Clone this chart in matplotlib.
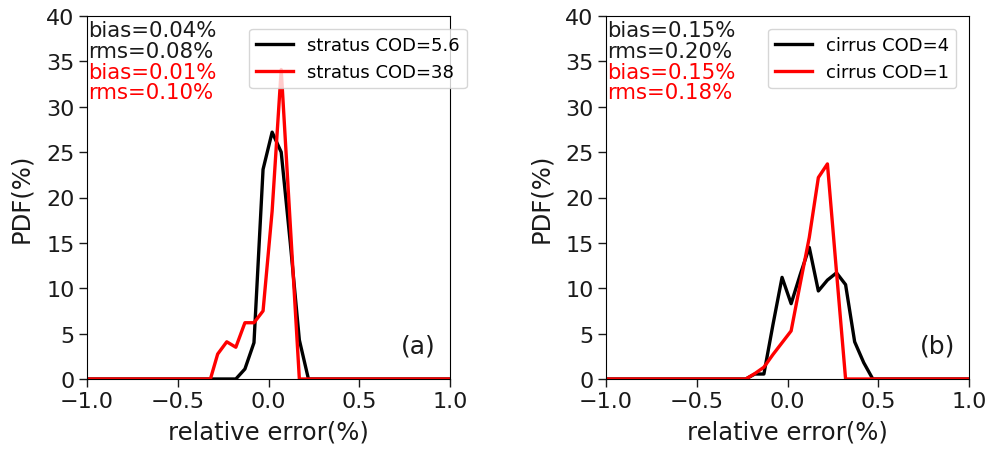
import matplotlib
matplotlib.use("Agg")
import matplotlib.pyplot as plt

# Panel (a) stratus
a_x_black = [-1.0, -0.18, -0.13, -0.08, -0.03, 0.02, 0.07, 0.12, 0.17, 0.22, 1.0]
a_y_black = [0, 0, 1.1, 4.0, 23.1, 27.2, 25.0, 15.0, 4.3, 0, 0]
a_x_red = [-1.0, -0.32, -0.28, -0.23, -0.18, -0.13, -0.08, -0.03, 0.02, 0.07, 0.12, 0.17, 1.0]
a_y_red = [0, 0, 2.75, 4.1, 3.5, 6.2, 6.2, 7.5, 18.5, 34.1, 17.0, 0, 0]

# Panel (b) cirrus
b_x_black = [-1.0, -0.23, -0.18, -0.13, -0.08, -0.03, 0.02, 0.07, 0.12, 0.17, 0.22,
             0.27, 0.32, 0.37, 0.42, 0.47, 1.0]
b_y_black = [0, 0, 0.55, 0.55, 6.0, 11.2, 8.3, 11.5, 14.5, 9.7, 10.9, 11.7, 10.4, 4.1, 1.8, 0, 0]
b_x_red = [-1.0, -0.23, -0.18, -0.13, -0.08, -0.03, 0.02, 0.07, 0.12, 0.17, 0.22, 0.27, 0.32, 1.0]
b_y_red = [0, 0, 0.6, 1.3, 2.7, 4.0, 5.3, 10.5, 15.6, 22.2, 23.7, 11.8, 0, 0]

a_labels = ["stratus COD=5.6", "stratus COD=38"]
b_labels = ["cirrus COD=4", "cirrus COD=1"]
a_stats = ["bias=0.04%", "rms=0.08%", "bias=0.01%", "rms=0.10%"]
b_stats = ["bias=0.15%", "rms=0.20%", "bias=0.15%", "rms=0.18%"]
stat_colors = ["#1a1a1a", "#1a1a1a", "red", "red"]
panel_tags = ["(a)", "(b)"]

xticks = [-1.0, -0.5, 0.0, 0.5, 1.0]
yticks = [0, 5, 10, 15, 20, 25, 30, 35, 40]

fig = plt.figure(figsize=(9.86, 4.52), dpi=100)
W, H = 986, 452
ax_a = fig.add_axes([87 / W, (H - 380) / H, 363 / W, 363 / H])
ax_b = fig.add_axes([606 / W, (H - 380) / H, 363 / W, 363 / H])

panels = [
    (ax_a, a_x_black, a_y_black, a_x_red, a_y_red, a_labels, a_stats, panel_tags[0]),
    (ax_b, b_x_black, b_y_black, b_x_red, b_y_red, b_labels, b_stats, panel_tags[1]),
]

stat_y = [0.944, 0.886, 0.830, 0.773]

for ax, xk, yk, xr, yr, labels, stats, tag in panels:
    ax.plot(xk, yk, color="black", lw=2.4, label=labels[0])
    ax.plot(xr, yr, color="red", lw=2.4, label=labels[1])
    ax.set_xlim(-1, 1)
    ax.set_ylim(0, 40)
    ax.set_xticks(xticks)
    ax.set_yticks(yticks)
    ax.tick_params(labelsize=16, length=5.5, width=1, colors="#1a1a1a")
    ax.set_xlabel("relative error(%)", fontsize=17.5, labelpad=6, color="#1a1a1a")
    ax.set_ylabel("PDF(%)", fontsize=17.5, labelpad=9, color="#1a1a1a")
    for s, c, yy in zip(stats, stat_colors, stat_y):
        ax.text(0.002, yy, s, color=c, fontsize=15.3, transform=ax.transAxes,
                ha="left", va="baseline")
    ax.text(0.913, 0.092, tag, fontsize=18, transform=ax.transAxes,
            ha="center", va="center", color="#1a1a1a")
    ax.legend(loc="upper left", bbox_to_anchor=(0.447, 0.965), borderaxespad=0,
              fontsize=13)

fig.savefig("out.png", dpi=100)
